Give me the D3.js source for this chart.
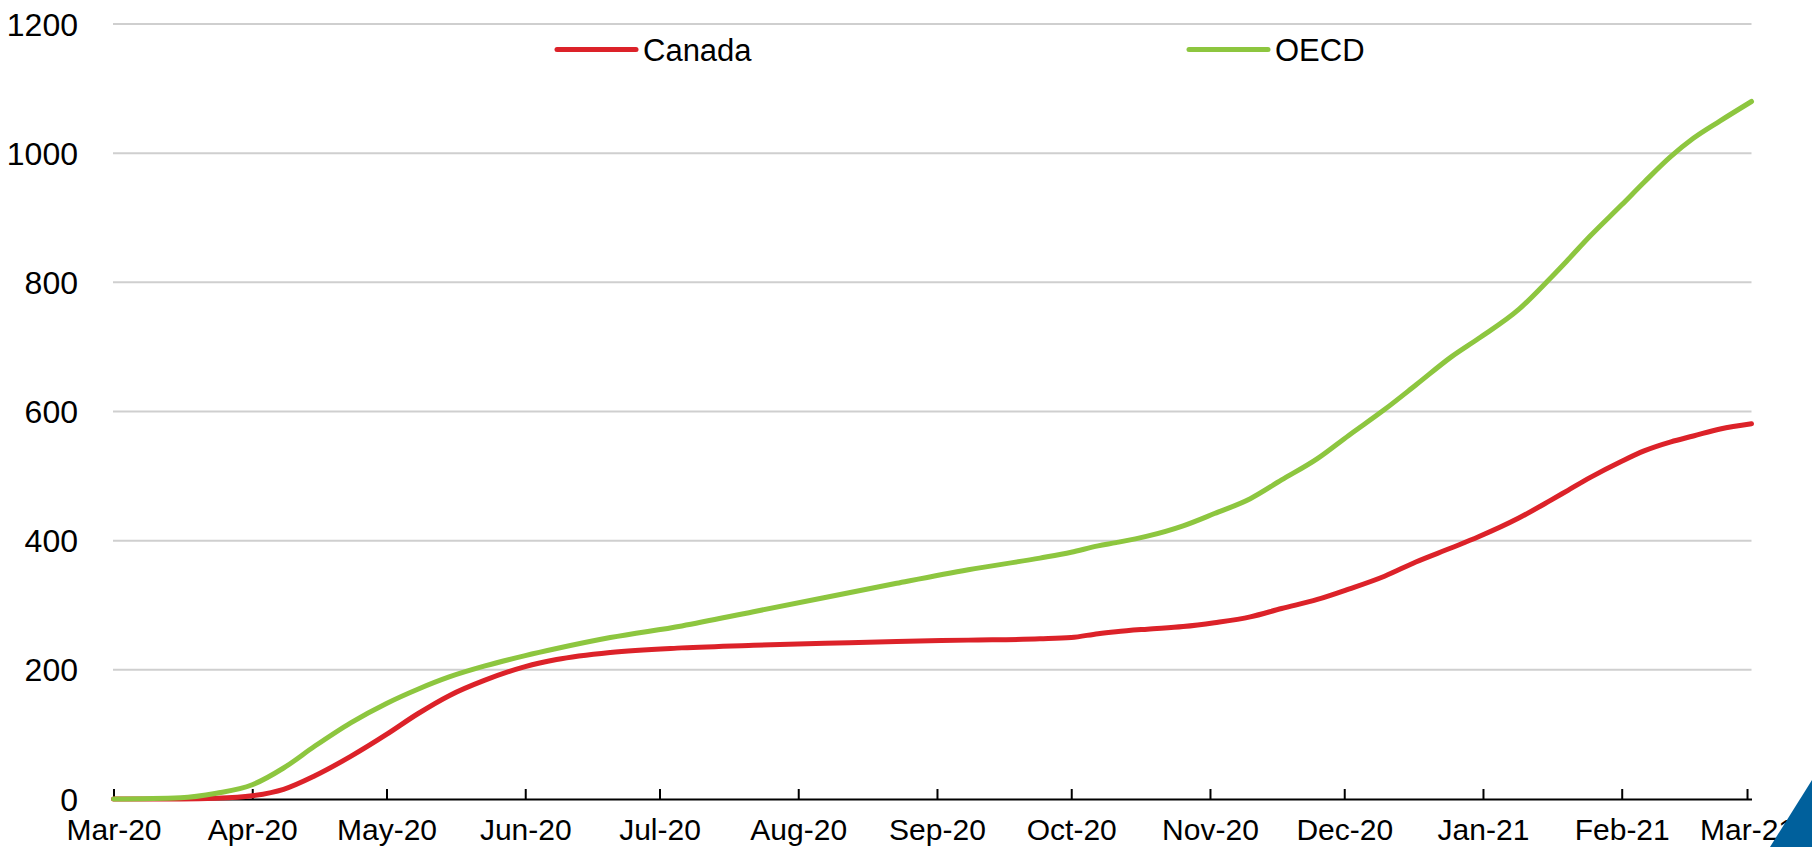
<!DOCTYPE html>
<html>
<head>
<meta charset="utf-8">
<script src="https://cdnjs.cloudflare.com/ajax/libs/d3/7.8.5/d3.min.js"></script>
<style>
  body { margin: 0; background: #fff; }
  svg text { font-family: "Liberation Sans", Arial, sans-serif; fill: #000; }
</style>
</head>
<body>
<div id="chart"></div>
<script>
var dates = [
  "2020-03-01", "2020-03-16", "2020-03-24", "2020-04-01", "2020-04-08", "2020-04-15",
  "2020-04-23", "2020-05-01", "2020-05-08", "2020-05-15", "2020-05-23", "2020-06-01",
  "2020-06-08", "2020-06-20", "2020-07-06", "2020-07-22", "2020-08-07", "2020-08-23",
  "2020-09-08", "2020-09-24", "2020-10-01", "2020-10-07", "2020-10-11", "2020-10-18",
  "2020-10-26", "2020-11-02", "2020-11-10", "2020-11-17", "2020-11-25", "2020-12-02",
  "2020-12-10", "2020-12-17", "2020-12-25", "2020-12-31", "2021-01-09", "2021-01-16",
  "2021-01-20", "2021-01-25", "2021-02-01", "2021-02-06", "2021-02-12", "2021-02-17",
  "2021-02-23", "2021-03-02"
];

var canada = [
  0, 0, 1, 5, 15, 36,
  66, 100, 132, 160, 184, 205,
  216, 227, 234, 238, 241, 244,
  246, 248, 250, 256, 259, 263,
  267, 273, 282, 295, 309, 325,
  345, 367, 389, 406, 435, 462,
  478, 498, 523, 539, 553, 562,
  573, 581
];

var oecd = [
  0, 2, 9, 22, 48, 82,
  118, 148, 170, 189, 206, 222,
  233, 250, 268, 290, 312, 334,
  355, 373, 382, 392, 397, 407,
  423, 442, 465, 494, 527, 563,
  603, 641, 685, 713, 758, 806,
  835, 872, 920, 955, 995, 1023,
  1050, 1080
];

var yTicks = [0, 200, 400, 600, 800, 1000, 1200];

var seriesNames = ["Canada", "OECD"];
var seriesColors = ["#DC2229", "#8DC63F"];

var width = 1812, height = 847;
var parse = d3.timeParse("%Y-%m-%d");

var svg = d3.select("#chart").append("svg")
    .attr("width", width)
    .attr("height", height);

let x = d3.scaleTime()
    .domain([parse("2020-03-01"), parse("2021-03-02")])
    .range([113.5, 1751.5]);

let y = d3.scaleLinear()
    .domain([0, 1200])
    .range([799, 24]);

// gridlines
svg.append("g")
  .selectAll("line")
    .data(yTicks.filter(d => d > 0))
  .enter().append("line")
    .attr("x1", 113)
    .attr("x2", 1751.5)
    .attr("y1", d => y(d))
    .attr("y2", d => y(d))
    .attr("stroke", "#cfcfcf")
    .attr("stroke-width", 2);

// y labels
svg.append("g")
  .selectAll("text")
    .data(yTicks)
  .enter().append("text")
    .attr("x", 78)
    .attr("y", d => y(d))
    .attr("dy", "0.36em")
    .attr("text-anchor", "end")
    .style("font-size", "32px")
    .text(d => d);

// x axis, ticks pointing up into the plot
let xAxis = svg.append("g")
    .attr("transform", "translate(0," + y(0) + ")")
    .call(d3.axisBottom(x)
      .ticks(d3.timeMonth.every(1))
      .tickFormat(d3.timeFormat("%b-%y"))
      .tickSize(-10)
      .tickSizeOuter(0));

xAxis.select(".domain")
    .attr("stroke", "#000")
    .attr("stroke-width", 2);
xAxis.selectAll(".tick line")
    .attr("stroke", "#000")
    .attr("stroke-width", 2);
xAxis.selectAll(".tick text")
    .attr("y", 0)
    .attr("dy", 0)
    .attr("transform", "translate(0,41)")
    .style("font-size", "30px")
    .style("font-family", "'Liberation Sans', Arial, sans-serif")
    .attr("fill", "#000");

let line = d3.line()
    .x(d => x(d.date))
    .y(d => y(d.value))
    .curve(d3.curveMonotoneX);

var series = [canada, oecd].map(function(vals, i) {
  return {
    name: seriesNames[i],
    color: seriesColors[i],
    values: vals.map((v, j) => ({date: parse(dates[j]), value: v}))
  };
});

svg.selectAll(".series")
    .data(series)
  .enter().append("path")
    .attr("class", "series")
    .attr("d", d => line(d.values))
    .attr("fill", "none")
    .attr("stroke", d => d.color)
    .attr("stroke-width", 5)
    .attr("stroke-linecap", "round")
    .attr("stroke-linejoin", "round");

// legend
var legendX = [557, 1189];
var legend = svg.selectAll(".legend")
    .data(series)
  .enter().append("g")
    .attr("class", "legend")
    .attr("transform", (d, i) => "translate(" + legendX[i] + ",0)");

legend.append("line")
    .attr("x1", 0)
    .attr("x2", 79)
    .attr("y1", 49.5)
    .attr("y2", 49.5)
    .attr("stroke", d => d.color)
    .attr("stroke-width", 5)
    .attr("stroke-linecap", "round");

legend.append("text")
    .attr("x", 86)
    .attr("y", 60.5)
    .style("font-size", "31px")
    .text(d => d.name);

// corner triangle
svg.append("path")
    .attr("d", "M1770,847L1812,780L1812,847Z")
    .attr("fill", "#00609C");
</script>
</body>
</html>
